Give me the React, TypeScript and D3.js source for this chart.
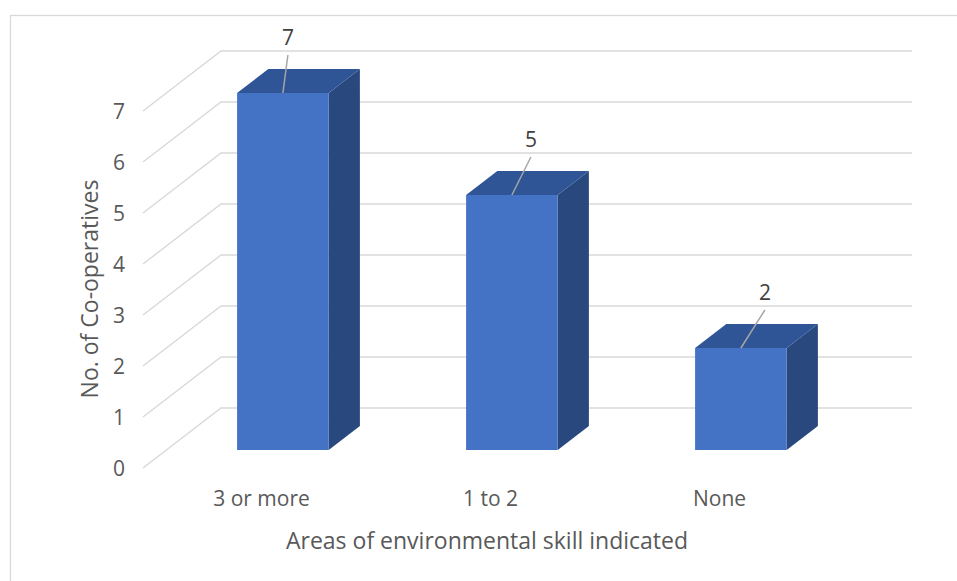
import React from "react";
import * as d3 from "d3";

const categories = ["3 or more", "1 to 2", "None"];
const values = [7, 5, 2];
const yTicks = [0, 1, 2, 3, 4, 5, 6, 7];
const xTitle = "Areas of environmental skill indicated";
const yTitle = "No. of Co-operatives";

// styling / layout constants
const W = 957;
const H = 581;
const FONT = "'Open Sans', 'DejaVu Sans', sans-serif";
const GRID = "#d9d9d9";
const TEXT = "#595959";
const DX = 78; // depth offset in x
const DY = 60; // depth offset in y
const Z_FRONT = 0.3;
const Z_BACK = 0.7;
const labelDx = [5, 19, 24];

export default function App() {
  const y = d3.scaleLinear().domain([0, 7]).range([468, 111]);
  const x = d3
    .scaleBand<string>()
    .domain(categories)
    .range([145, 832])
    .paddingInner(0.6)
    .paddingOuter(0.3);
  const wallLeft = 143;
  const wallRight = 912;

  const P = (px: number, v: number, z: number): [number, number] => [
    px + z * DX,
    y(v) - z * DY,
  ];
  const poly = (pts: [number, number][]) =>
    pts.map((p) => p.join(",")).join(" ");

  return (
    <svg
      width={W}
      height={H}
      style={{ position: "absolute", left: 0, top: 0, background: "#fff" }}
      fontFamily={FONT}
    >
      <rect x={10.5} y={15.5} width={960} height={600} fill="#fff" stroke={GRID} strokeWidth={1.3} />
      {/* gridlines: side wall diagonals + back wall */}
      {yTicks.map((t) => {
        const [x0, y0] = P(wallLeft, t, 0);
        const [x1, y1] = P(wallLeft, t, 1);
        return (
          <g key={t}>
            <polyline
              points={poly([[x0, y0], [x1, y1], [wallRight, y1]])}
              fill="none"
              stroke={GRID}
              strokeWidth={1.4}
            />
            <text
              x={x0 - 18}
              y={y0}
              textAnchor="end"
              dominantBaseline="central"
              fontSize={21}
              fill={TEXT}
            >
              {t}
            </text>
          </g>
        );
      })}
      {/* bars */}
      {categories.map((c, i) => {
        const v = values[i];
        const x0 = x(c)!;
        const x1 = x0 + x.bandwidth();
        const fbl = P(x0, 0, Z_FRONT);
        const fbr = P(x1, 0, Z_FRONT);
        const ftl = P(x0, v, Z_FRONT);
        const ftr = P(x1, v, Z_FRONT);
        const btl = P(x0, v, Z_BACK);
        const btr = P(x1, v, Z_BACK);
        const bbr = P(x1, 0, Z_BACK);
        const topC: [number, number] = [(ftl[0] + ftr[0]) / 2, ftl[1]];
        const lx = topC[0] + labelDx[i];
        return (
          <g key={c}>
            <polygon points={poly([fbr, ftr, btr, bbr])} fill="#29487d" />
            <polygon points={poly([ftl, ftr, btr, btl])} fill="#2f5597" />
            <polygon points={poly([fbl, fbr, ftr, ftl])} fill="#4472c4" />
            <line
              x1={lx}
              y1={topC[1] - 38}
              x2={topC[0]}
              y2={topC[1]}
              stroke="#a6a6a6"
              strokeWidth={1.5}
            />
            <text
              x={lx}
              y={topC[1] - 56}
              textAnchor="middle"
              dominantBaseline="central"
              fontSize={21}
              fill="#404040"
            >
              {v}
            </text>
            <text
              x={x0 + x.bandwidth() / 2 + 2}
              y={498}
              textAnchor="middle"
              dominantBaseline="central"
              fontSize={21}
              fill={TEXT}
            >
              {c}
            </text>
          </g>
        );
      })}
      <text
        x={487}
        y={540}
        textAnchor="middle"
        dominantBaseline="central"
        fontSize={23}
        fill={TEXT}
      >
        {xTitle}
      </text>
      <text
        transform={`translate(89,289) rotate(-90)`}
        textAnchor="middle"
        dominantBaseline="central"
        fontSize={23}
        fill={TEXT}
      >
        {yTitle}
      </text>
    </svg>
  );
}
